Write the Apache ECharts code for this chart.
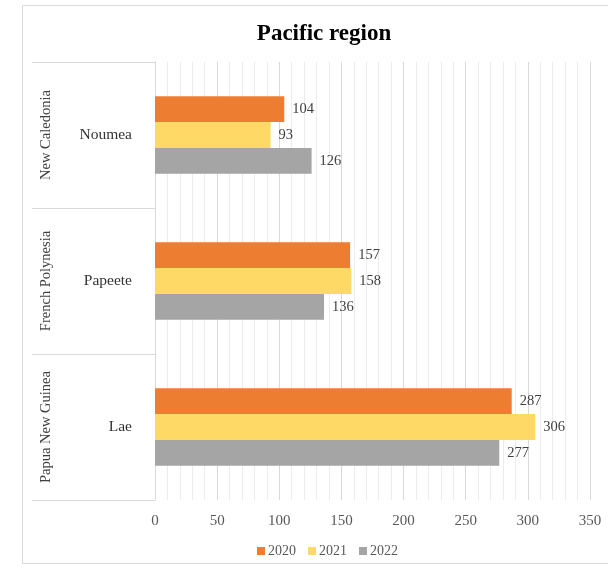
<!DOCTYPE html>
<html>
<head>
<meta charset="utf-8">
<script src="https://cdn.jsdelivr.net/npm/echarts@6/dist/echarts.min.js"></script>
<style>
  html, body { margin: 0; padding: 0; background: #ffffff; }
  #chart { width: 608px; height: 568px; }
</style>
</head>
<body>
<div id="chart"></div>
<script>
// Port cities and the countries they belong to (top to bottom)
const cities = ['Noumea', 'Papeete', 'Lae'];
const countries = ['New Caledonia', 'French Polynesia', 'Papua New Guinea'];
const years = ['2020', '2021', '2022'];
const values2020 = [104, 157, 287];
const values2021 = [93, 158, 306];
const values2022 = [126, 136, 277];
const xTicks = [0, 50, 100, 150, 200, 250, 300, 350];

const colors = ['#ED7D31', '#FFD966', '#A5A5A5'];
const serif = '"Liberation Serif", "DejaVu Serif", serif';

const seriesValues = [values2020, values2021, values2022];

const chart = echarts.init(document.getElementById('chart'), null, { renderer: 'canvas' });

chart.setOption({
  backgroundColor: '#ffffff',
  animation: false,
  color: colors,
  title: {
    text: 'Pacific region',
    left: 319,
    top: 18,
    textAlign: 'center',
    textStyle: { fontFamily: serif, fontWeight: 'bold', fontSize: 23, color: '#000000' }
  },
  graphic: [{
    type: 'rect',
    shape: { x: 22.5, y: 5.5, width: 600, height: 558 },
    style: { fill: 'none', stroke: '#d9d9d9', lineWidth: 1 },
    silent: true
  }],
  legend: {
    data: years,
    left: 252,
    top: 539,
    itemWidth: 8,
    itemHeight: 8,
    itemGap: 12,
    icon: 'rect',
    textStyle: { fontFamily: serif, fontSize: 14, color: '#595959', padding: [0, 0, 0, -2] }
  },
  grid: { left: 155, right: 18, top: 62, bottom: 68, containLabel: false },
  xAxis: {
    type: 'value',
    min: xTicks[0],
    max: xTicks[xTicks.length - 1],
    interval: 50,
    axisLine: { show: false },
    axisTick: { show: false },
    axisLabel: { fontFamily: serif, fontSize: 15, color: '#595959', margin: 14 },
    splitLine: { show: true, lineStyle: { color: '#d9d9d9', width: 1 } },
    minorTick: { show: false, splitNumber: 5 },
    minorSplitLine: { show: true, lineStyle: { color: '#ececec', width: 1 } }
  },
  yAxis: [
    {
      type: 'category',
      data: cities,
      inverse: true,
      position: 'left',
      axisLine: { show: true, lineStyle: { color: '#d9d9d9' } },
      axisTick: { show: true, length: 123, lineStyle: { color: '#d9d9d9' } },
      axisLabel: { fontFamily: serif, fontSize: 15.5, color: '#333333', margin: 23 }
    },
    {
      type: 'category',
      data: countries,
      inverse: true,
      position: 'left',
      axisLine: { show: false },
      axisTick: { show: false },
      axisLabel: { fontFamily: serif, fontSize: 14.5, color: '#404040', margin: 101, rotate: 90 }
    }
  ],
  series: years.map((y, i) => ({
    name: y,
    type: 'bar',
    yAxisIndex: 0,
    data: seriesValues[i],
    barGap: '0%',
    barCategoryGap: '47%',
    itemStyle: { color: colors[i] },
    label: {
      show: true,
      position: 'right',
      distance: 8,
      fontFamily: serif,
      fontSize: 14.5,
      color: '#404040'
    }
  }))
});
</script>
</body>
</html>
